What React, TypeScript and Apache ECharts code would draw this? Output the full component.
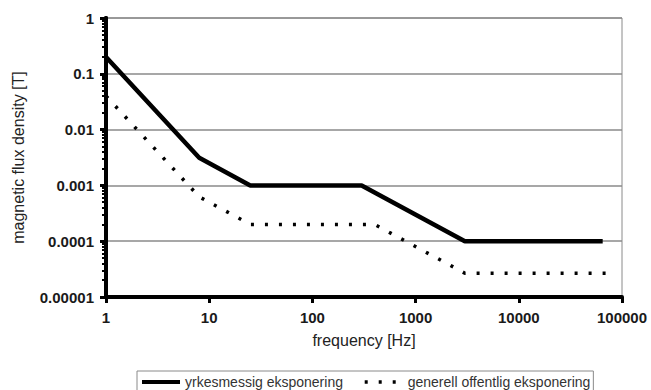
import React, { useEffect, useRef } from "react";
import * as echarts from "echarts";

const xTickLabels = ["1", "10", "100", "1000", "10000", "100000"];
const yTickLabels = ["0.00001", "0.0001", "0.001", "0.01", "0.1", "1"];

const occFreq = [1, 8, 25, 300, 3000, 65000];
const occB = [0.2, 0.003125, 0.001, 0.001, 0.0001, 0.0001];

const pubFreq = [1, 8, 25, 400, 3000, 78000];
const pubB = [0.04, 0.000625, 0.0002, 0.0002, 0.0000267, 0.0000267];

const seriesNames = ["yrkesmessig eksponering", "generell offentlig eksponering"];

// minor tick positions (log10 of 1..9 x 10^d)
const yMinorTicksLog: number[] = [];
for (let d = -5; d <= -1; d++) {
  for (let k = 1; k <= 9; k++) yMinorTicksLog.push(Math.log10(k * Math.pow(10, d)));
}
yMinorTicksLog.push(0);

const fmtX = (v: number) => xTickLabels[Math.round(Math.log10(v))] ?? "";
const fmtY = (v: number) => yTickLabels[Math.round(Math.log10(v)) + 5] ?? "";

export default function App() {
  const ref = useRef<HTMLDivElement>(null);
  useEffect(() => {
    if (!ref.current) return;
    const chart = echarts.init(ref.current, undefined, { renderer: "svg" });
    const labelStyle = {
      fontFamily: "Liberation Sans, Arial, sans-serif",
      fontWeight: "bold" as const,
      fontSize: 15,
      color: "#1a1a1a",
    };
    chart.setOption({
      animation: false,
      backgroundColor: "#ffffff",
      grid: {
        left: 106,
        right: 29,
        top: 18,
        bottom: 93,
        show: true,
        borderColor: "#8a8a8a",
        borderWidth: 1,
      },
      legend: {
        left: 137,
        top: 371,
        orient: "horizontal",
        padding: [4, 3, 4, 3],
        borderColor: "#8a8a8a",
        borderWidth: 1,
        itemWidth: 38,
        itemHeight: 14,
        itemGap: 20,
        itemStyle: { opacity: 0 },
        textStyle: {
          fontFamily: "Liberation Sans, Arial, sans-serif",
          fontSize: 14,
          color: "#333",
        },
        data: [
          { name: seriesNames[0], lineStyle: { width: 4, color: "#000" } },
          { name: seriesNames[1], lineStyle: { width: 3.5, color: "#000", type: [3, 11] } },
        ],
      },
      xAxis: {
        type: "log",
        logBase: 10,
        min: 1,
        max: 100000,
        z: 10,
        name: "frequency [Hz]",
        nameLocation: "middle",
        nameGap: 35,
        nameTextStyle: {
          fontFamily: "Liberation Sans, Arial, sans-serif",
          fontSize: 16,
          color: "#222",
        },
        axisLine: { show: true, onZero: false, lineStyle: { color: "#000", width: 4 } },
        axisTick: { show: true, length: 6, lineStyle: { color: "#000", width: 3 } },
        axisLabel: { ...labelStyle, margin: 13, formatter: fmtX },
        splitLine: { show: false },
        minorTick: { show: false },
      },
      yAxis: [
        {
          type: "log",
          logBase: 10,
          min: 0.00001,
          max: 1,
          name: "magnetic flux density [T]",
          nameLocation: "middle",
          nameRotate: 90,
          nameGap: 80,
          nameTextStyle: {
            fontFamily: "Liberation Sans, Arial, sans-serif",
            fontSize: 16,
            color: "#222",
          },
          axisLine: { show: true, onZero: false, lineStyle: { color: "#000", width: 4 } },
          axisTick: { show: true, length: 6, lineStyle: { color: "#000", width: 3 } },
          axisLabel: { ...labelStyle, margin: 12, formatter: fmtY },
          splitLine: { show: true, lineStyle: { color: "#8a8a8a", width: 1.5 } },
        },
        {
          type: "value",
          min: -5,
          max: 0,
          z: 10,
          position: "left",
          axisLine: { show: true, onZero: false, lineStyle: { color: "#000", width: 4 } },
          axisTick: {
            show: true,
            length: 4,
            customValues: yMinorTicksLog,
            lineStyle: { color: "#000", width: 2 },
          },
          axisLabel: { show: false },
          splitLine: { show: false },
        },
      ],
      series: [
        {
          name: seriesNames[0],
          type: "line",
          yAxisIndex: 0,
          symbol: "none",
          lineStyle: { color: "#000", width: 4.5 },
          itemStyle: { color: "#000" },
          data: occFreq.map((f, i) => [f, occB[i]]),
        },
        {
          name: seriesNames[1],
          type: "line",
          yAxisIndex: 0,
          symbol: "none",
          lineStyle: { color: "#000", width: 3.5, type: [3, 11], cap: "butt" },
          itemStyle: { color: "#000" },
          data: pubFreq.map((f, i) => [f, pubB[i]]),
        },
      ],
    });
    return () => chart.dispose();
  }, []);
  return (
    <div
      ref={ref}
      style={{ position: "fixed", left: 0, top: 0, width: 651, height: 390 }}
    />
  );
}
